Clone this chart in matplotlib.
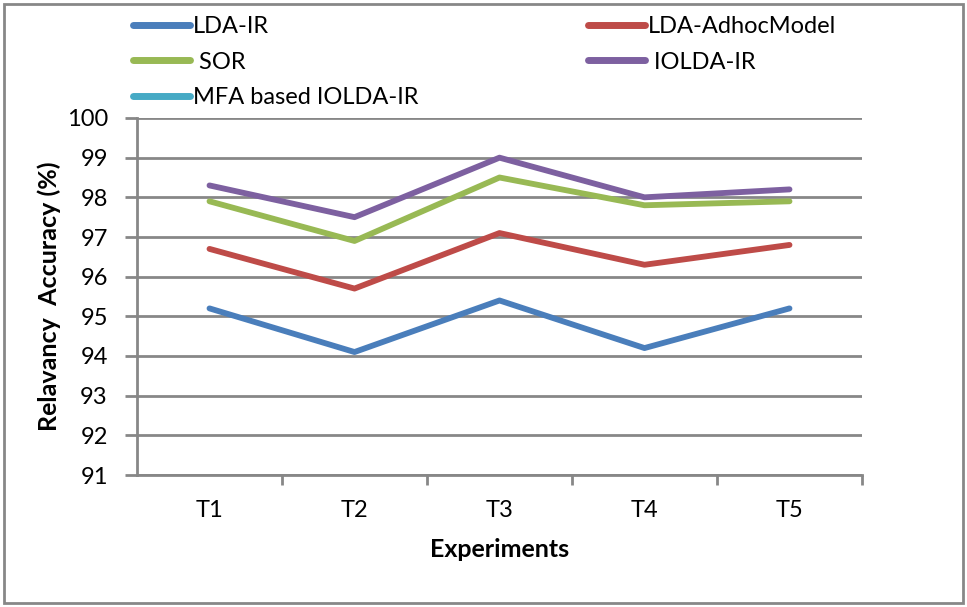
import matplotlib
matplotlib.use("Agg")
import matplotlib.pyplot as plt
from matplotlib.lines import Line2D
from matplotlib.patches import Rectangle

plt.rcParams['font.family'] = ['Lato', 'DejaVu Sans']

categories = ["T1", "T2", "T3", "T4", "T5"]
lda_ir = [95.2, 94.1, 95.4, 94.2, 95.2]
lda_adhoc = [96.7, 95.7, 97.1, 96.3, 96.8]
sor = [97.9, 96.9, 98.5, 97.8, 97.9]
iolda_ir = [98.3, 97.5, 99.0, 98.0, 98.2]
mfa_iolda_ir = []  # not visible in the reference plot area
yticks = [91, 92, 93, 94, 95, 96, 97, 98, 99, 100]

names = ["LDA-IR", "LDA-AdhocModel", "SOR", "IOLDA-IR", "MFA based IOLDA-IR"]
legend_labels = ["LDA-IR", "LDA-AdhocModel", " SOR", " IOLDA-IR", "MFA based IOLDA-IR"]
colors = ["#4A7EBB", "#BE4B48", "#98B954", "#7D60A0", "#46AAC5"]
series = [lda_ir, lda_adhoc, sor, iolda_ir, mfa_iolda_ir]

W, H = 967, 607
fig = plt.figure(figsize=(W / 100, H / 100), dpi=100)
ax = fig.add_axes([137 / W, 1 - 475 / H, (862 - 137) / W, (475 - 118) / H])

xs = list(range(1, len(categories) + 1))
handles = []
for lab, col, vals in zip(legend_labels, colors, series):
    if vals:
        ax.plot(xs[:len(vals)], vals, color=col, lw=4.2, solid_capstyle='round', zorder=3)
    handles.append(Line2D([], [], color=col, lw=5.0, solid_capstyle='round', label=lab))

ax.set_xlim(0.5, len(categories) + 0.5)
ax.set_ylim(91, 100)
ax.set_yticks(yticks)
ax.set_yticklabels([str(v) for v in yticks], fontsize=17)
ax.yaxis.grid(True, color="#878787", lw=2)
ax.set_axisbelow(True)

ax.set_xticks([i + 0.5 for i in xs])
ax.set_xticklabels([])
ax.set_xticks(xs, minor=True)
ax.set_xticklabels(categories, minor=True, fontsize=17)
ax.tick_params(axis='x', which='minor', length=0, pad=18)
ax.tick_params(axis='x', which='major', length=7, width=2, color="#878787")
ax.tick_params(axis='y', length=9, width=2, color="#878787", pad=12)

for s in ['top', 'right']:
    ax.spines[s].set_visible(False)
for s in ['left', 'bottom']:
    ax.spines[s].set_color("#878787")
    ax.spines[s].set_linewidth(2)

ax.set_xlabel("Experiments", fontsize=18, fontweight='bold', labelpad=12)
ax.set_ylabel("Relavancy  Accuracy (%)", fontsize=18, fontweight='bold', labelpad=4)

common = dict(loc='upper left', frameon=False, fontsize=17, handlelength=2.4,
              handletextpad=0.15, labelspacing=0.62, borderpad=0, borderaxespad=0)
leg1 = fig.legend(handles=[handles[0], handles[2], handles[4]],
                  bbox_to_anchor=(133 / W, 1 - 16 / H), **common)
leg2 = fig.legend(handles=[handles[1], handles[3]],
                  bbox_to_anchor=(588 / W, 1 - 16 / H), **common)

fig.patches.append(Rectangle((4 / W, 4 / H), (W - 8) / W, (H - 8) / H, transform=fig.transFigure,
                             fill=False, edgecolor="#878787", lw=2))

fig.savefig("out.png", dpi=100)
